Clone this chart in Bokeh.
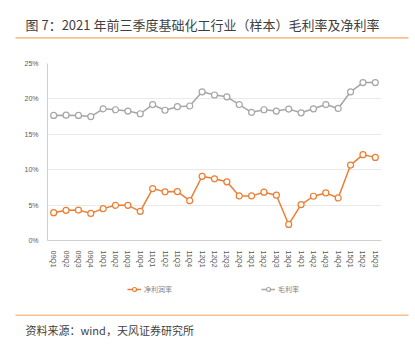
from bokeh.plotting import figure
from bokeh.models import (FactorRange, Range1d, Legend, LegendItem, BoxAnnotation,
                          PrintfTickFormatter, FixedTicker)
from bokeh.layouts import column
from bokeh.core.properties import value
from bokeh.embed import file_html
from bokeh.resources import INLINE

quarters = ["09Q1", "09Q2", "09Q3", "09Q4", "10Q1", "10Q2", "10Q3", "10Q4",
            "11Q1", "11Q2", "11Q3", "11Q4", "12Q1", "12Q2", "12Q3", "12Q4",
            "13Q1", "13Q2", "13Q3", "13Q4", "14Q1", "14Q2", "14Q3", "14Q4",
            "15Q1", "15Q2", "15Q3"]
gross_margin = [17.66, 17.7, 17.66, 17.5, 18.6, 18.47, 18.28, 17.9,
                19.2, 18.4, 18.9, 19.0, 21.0, 20.55, 20.3, 19.2,
                18.1, 18.47, 18.28, 18.56, 18.04, 18.6, 19.2, 18.65,
                21.0, 22.3, 22.3]
net_margin = [3.93, 4.26, 4.3, 3.83, 4.5, 4.97, 4.97, 4.12,
              7.34, 6.87, 6.91, 5.63, 9.07, 8.71, 8.29, 6.3,
              6.3, 6.82, 6.4, 2.27, 5.07, 6.25, 6.72, 6.01,
              10.65, 12.12, 11.74]
y_ticks = [0, 5, 10, 15, 20, 25]
title_text = "图 7：2021 年前三季度基础化工行业（样本）毛利率及净利率"
source_text = "资料来源：wind，天风证券研究所"
net_name = "净利润率"
gross_name = "毛利率"

ORANGE = "#ED7D31"
GRAY = "#A5A5A5"
RULE = "#F9BF8F"
CJK = "Noto Sans CJK SC"
LATIN = "Liberation Sans"

W = 415
HEAD_H = 42
MAIN_H = 233          # canvas y 42..275
FOOT_H = 348 - HEAD_H - MAIN_H


def blank(height):
    # y measured upward from the bottom of this small canvas
    f = figure(width=W, height=height, x_range=Range1d(0, W), y_range=Range1d(0, height),
               output_backend="svg", toolbar_location=None,
               x_axis_location=None, y_axis_location=None, frame_align=False,
               min_border=0, min_border_left=0, min_border_right=0,
               min_border_top=0, min_border_bottom=0)
    f.grid.grid_line_color = None
    f.outline_line_color = None
    f.background_fill_color = "white"
    f.border_fill_color = "white"
    return f


def rule(f, y_mid):
    f.add_layout(BoxAnnotation(left=15, right=408, bottom=y_mid - 0.8, top=y_mid + 0.8,
                               fill_color=RULE, fill_alpha=1, line_color=None,
                               level="overlay"))


# ---- header (positions given from the top of the header, converted)
head = blank(HEAD_H)
head.text(x=[25], y=[HEAD_H - 24], text=[title_text], text_font=value(CJK),
          text_font_size="13px", text_color="#3F3F3F", text_baseline="middle",
          text_align="left")
rule(head, HEAD_H - 37.4)

# ---- main chart
FL, FR = 47, 381
p = figure(width=W, height=MAIN_H, x_range=FactorRange(*quarters, range_padding=0),
           y_range=Range1d(0, 25), output_backend="svg", toolbar_location=None,
           frame_align=False,
           min_border_left=FL, min_border_right=W - FR, min_border_top=63 - HEAD_H,
           min_border_bottom=HEAD_H + MAIN_H - 240)
p.outline_line_color = None
p.background_fill_color = "white"
p.border_fill_color = "white"
p.xgrid.grid_line_color = None
p.ygrid.grid_line_color = "#EAEAEA"

p.yaxis.ticker = FixedTicker(ticks=y_ticks)
p.yaxis.formatter = PrintfTickFormatter(format="%d%%")
p.yaxis.axis_line_color = "#D0D0D0"
p.yaxis.major_tick_line_color = None
p.yaxis.minor_tick_line_color = None
p.yaxis.major_label_text_font = LATIN
p.yaxis.major_label_text_font_size = "7px"
p.yaxis.major_label_text_color = "#595959"
p.yaxis.major_label_standoff = 3

p.xaxis.axis_line_color = "#D0D0D0"
p.xaxis.major_tick_line_color = None
p.xaxis.minor_tick_line_color = None
p.xaxis.major_label_orientation = "vertical"
p.xaxis.major_label_text_font = LATIN
p.xaxis.major_label_text_font_size = "7px"
p.xaxis.major_label_text_color = "#595959"
p.xaxis.major_label_standoff = 4

p.line(quarters, net_margin, line_color=ORANGE, line_width=1.5)
p.scatter(quarters, net_margin, size=6, marker="circle", line_color=ORANGE,
          fill_color="white", line_width=1.2)
p.line(quarters, gross_margin, line_color=GRAY, line_width=1.5)
p.scatter(quarters, gross_margin, size=6, marker="circle", line_color=GRAY,
          fill_color="white", line_width=1.2)

# ---- footer (legend, rule, source)
foot = blank(FOOT_H)
top0 = HEAD_H + MAIN_H
off = [-100, -90]   # legend proxies, outside the visible range
ln1 = foot.line(off, off, line_color=ORANGE, line_width=1.5)
sc1 = foot.scatter(off, off, size=6, marker="circle", line_color=ORANGE, fill_color="white",
                   line_width=1.2)
ln2 = foot.line(off, off, line_color=GRAY, line_width=1.5)
sc2 = foot.scatter(off, off, size=6, marker="circle", line_color=GRAY, fill_color="white",
                   line_width=1.2)
for rends, name, lx in (([ln1, sc1], net_name, 127), ([ln2, sc2], gross_name, 261)):
    lg = Legend(items=[LegendItem(label=name, renderers=rends, index=0)],
                location=(lx, FOOT_H - (294 - top0)), orientation="horizontal",
                padding=0, margin=0, border_line_color=None, background_fill_alpha=0,
                glyph_width=14, glyph_height=10, label_standoff=3, label_height=10,
                label_text_font=CJK, label_text_font_size="7px",
                label_text_color="#7F7F7F")
    foot.add_layout(lg)
rule(foot, FOOT_H - (314.8 - top0))
foot.text(x=[25], y=[FOOT_H - (329.5 - top0)], text=[source_text], text_font=value(CJK),
          text_font_size="11px", text_color="#3F3F3F", text_baseline="middle",
          text_align="left")

layout = column(head, p, foot, spacing=0)
open("out.html", "w").write(file_html(layout, INLINE))
